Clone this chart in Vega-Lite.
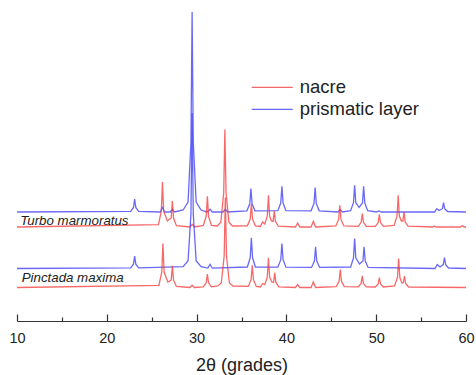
{
  "$schema": "https://vega.github.io/schema/vega-lite/v6.json",
  "width": 449,
  "height": 316,
  "autosize": {"type": "none"},
  "padding": {"left": 17, "top": 5, "right": 10, "bottom": 54},
  "background": "white",
  "config": {"view": {"stroke": null}, "font": "Liberation Sans"},
  "datasets": {
    "turboPrism": [
      {"theta":10,"intensity":109},{"theta":22.65,"intensity":109.6},{"theta":22.97,"intensity":113.5},{"theta":23.1,"intensity":122},{"theta":23.23,"intensity":113.5},{"theta":23.55,"intensity":109.6},
      {"theta":25.95,"intensity":109},{"theta":26.2,"intensity":113.5},{"theta":26.45,"intensity":109},{"theta":27.05,"intensity":109},{"theta":27.3,"intensity":111.5},{"theta":27.55,"intensity":109},
      {"theta":28.5,"intensity":111},{"theta":29.05,"intensity":119},{"theta":29.37,"intensity":179},{"theta":29.5,"intensity":309},{"theta":29.63,"intensity":179},{"theta":29.95,"intensity":119},{"theta":30.5,"intensity":111},{"theta":31.0,"intensity":109.5},
      {"theta":31.25,"intensity":109.2},{"theta":31.5,"intensity":111.7},{"theta":31.75,"intensity":109},{"theta":32.95,"intensity":109},{"theta":33.2,"intensity":111.7},{"theta":33.45,"intensity":109},
      {"theta":35.6,"intensity":110.2},{"theta":35.92,"intensity":117.2},{"theta":36.05,"intensity":132.4},{"theta":36.18,"intensity":117.2},{"theta":36.5,"intensity":110.2},
      {"theta":39.05,"intensity":110.3},{"theta":39.37,"intensity":118},{"theta":39.5,"intensity":134.7},{"theta":39.63,"intensity":118},{"theta":39.95,"intensity":110.3},
      {"theta":42.75,"intensity":110.2},{"theta":43.07,"intensity":117.5},{"theta":43.2,"intensity":133.4},{"theta":43.33,"intensity":117.5},{"theta":43.65,"intensity":110.2},
      {"theta":45.75,"intensity":109},{"theta":46.0,"intensity":111.4},{"theta":46.25,"intensity":109},
      {"theta":47.15,"intensity":110.3},{"theta":47.47,"intensity":118.3},{"theta":47.6,"intensity":135.7},{"theta":47.73,"intensity":118.3},{"theta":48.1,"intensity":113.5},{"theta":48.47,"intensity":118},{"theta":48.6,"intensity":134.7},{"theta":48.73,"intensity":118},{"theta":49.05,"intensity":110.3},
      {"theta":50.05,"intensity":109},{"theta":50.3,"intensity":110},{"theta":50.55,"intensity":109},
      {"theta":56.5,"intensity":109},{"theta":56.75,"intensity":112.4},{"theta":57.0,"intensity":110.5},{"theta":57.37,"intensity":112.3},{"theta":57.5,"intensity":118.5},{"theta":57.63,"intensity":112.3},{"theta":57.95,"intensity":109.5},{"theta":60,"intensity":109}
    ],
    "turboNacre": [
      {"theta":10,"intensity":94},
      {"theta":25.75,"intensity":96.3},{"theta":26.07,"intensity":109.8},{"theta":26.2,"intensity":139},{"theta":26.33,"intensity":109.8},{"theta":26.75,"intensity":100},{"theta":27.17,"intensity":103},{"theta":27.3,"intensity":120},{"theta":27.43,"intensity":103},{"theta":27.75,"intensity":95.3},
      {"theta":29.25,"intensity":94},{"theta":29.5,"intensity":96.7},{"theta":29.75,"intensity":94},
      {"theta":30.75,"intensity":95.5},{"theta":31.07,"intensity":104.7},{"theta":31.2,"intensity":124.7},{"theta":31.33,"intensity":104.7},{"theta":31.65,"intensity":95.5},
      {"theta":32.3,"intensity":95},{"theta":32.7,"intensity":98.9},{"theta":33.02,"intensity":128},{"theta":33.15,"intensity":191.4},{"theta":33.28,"intensity":128},{"theta":33.6,"intensity":98.9},{"theta":34.0,"intensity":95},
      {"theta":35.65,"intensity":95.2},{"theta":35.97,"intensity":102},{"theta":36.1,"intensity":117},{"theta":36.23,"intensity":102},{"theta":36.55,"intensity":95.2},
      {"theta":37.1,"intensity":94.5},{"theta":37.35,"intensity":99},{"theta":37.6,"intensity":97},{"theta":37.87,"intensity":105},{"theta":38.0,"intensity":125.7},{"theta":38.13,"intensity":105},{"theta":38.33,"intensity":100},{"theta":38.52,"intensity":99.6},{"theta":38.65,"intensity":110},{"theta":38.78,"intensity":99.6},{"theta":39.1,"intensity":94.8},
      {"theta":41.0,"intensity":94},{"theta":41.25,"intensity":98},{"theta":41.5,"intensity":94},
      {"theta":42.75,"intensity":94},{"theta":43.0,"intensity":99.7},{"theta":43.25,"intensity":94},
      {"theta":45.5,"intensity":95.1},{"theta":45.82,"intensity":101.6},{"theta":45.95,"intensity":115.7},{"theta":46.08,"intensity":101.6},{"theta":46.4,"intensity":95.1},
      {"theta":48.0,"intensity":94.7},{"theta":48.32,"intensity":98.7},{"theta":48.45,"intensity":107.4},{"theta":48.58,"intensity":98.7},{"theta":48.9,"intensity":94.7},
      {"theta":49.9,"intensity":94.6},{"theta":50.22,"intensity":98.4},{"theta":50.35,"intensity":106.7},{"theta":50.48,"intensity":98.4},{"theta":50.8,"intensity":94.6},
      {"theta":52.0,"intensity":95.6},{"theta":52.32,"intensity":105},{"theta":52.45,"intensity":125.7},{"theta":52.58,"intensity":105},{"theta":52.8,"intensity":100},{"theta":52.97,"intensity":100},{"theta":53.1,"intensity":109},{"theta":53.23,"intensity":99},{"theta":53.55,"intensity":94.8},
      {"theta":56.3,"intensity":94},{"theta":56.5,"intensity":95},{"theta":56.7,"intensity":94},
      {"theta":59.4,"intensity":94},{"theta":59.6,"intensity":95.5},{"theta":59.8,"intensity":94},{"theta":60,"intensity":94}
    ],
    "pinctadaPrism": [
      {"theta":10,"intensity":52.5},
      {"theta":22.65,"intensity":53.1},{"theta":22.97,"intensity":56.8},{"theta":23.1,"intensity":64.8},{"theta":23.23,"intensity":56.8},{"theta":23.55,"intensity":53.1},
      {"theta":28.5,"intensity":54.3},{"theta":29.05,"intensity":60.3},{"theta":29.37,"intensity":107},{"theta":29.5,"intensity":208},{"theta":29.63,"intensity":107},{"theta":29.95,"intensity":60.3},{"theta":30.5,"intensity":54.3},{"theta":31.0,"intensity":53.3},
      {"theta":31.25,"intensity":53},{"theta":31.5,"intensity":56.8},{"theta":31.75,"intensity":52.8},
      {"theta":35.65,"intensity":54},{"theta":35.97,"intensity":63.2},{"theta":36.1,"intensity":83.1},{"theta":36.23,"intensity":63.2},{"theta":36.55,"intensity":54},
      {"theta":39.05,"intensity":53.8},{"theta":39.37,"intensity":61.3},{"theta":39.5,"intensity":77.5},{"theta":39.63,"intensity":61.3},{"theta":39.95,"intensity":53.8},
      {"theta":42.8,"intensity":53.6},{"theta":43.12,"intensity":60},{"theta":43.25,"intensity":74.1},{"theta":43.38,"intensity":60},{"theta":43.7,"intensity":53.6},
      {"theta":47.15,"intensity":54},{"theta":47.47,"intensity":63},{"theta":47.6,"intensity":82.5},{"theta":47.73,"intensity":63},{"theta":48.15,"intensity":57},{"theta":48.52,"intensity":60},{"theta":48.65,"intensity":74.1},{"theta":48.78,"intensity":60},{"theta":49.1,"intensity":53.6},
      {"theta":56.55,"intensity":52.5},{"theta":56.8,"intensity":56.5},{"theta":57.1,"intensity":54},{"theta":57.47,"intensity":56.4},{"theta":57.6,"intensity":63.5},{"theta":57.73,"intensity":56.4},{"theta":58.05,"intensity":53},{"theta":60,"intensity":52.5}
    ],
    "pinctadaNacre": [
      {"theta":10,"intensity":33.5},
      {"theta":25.8,"intensity":35.7},{"theta":26.12,"intensity":48.9},{"theta":26.25,"intensity":77.5},{"theta":26.38,"intensity":48.9},{"theta":26.8,"intensity":39},{"theta":27.17,"intensity":41},{"theta":27.3,"intensity":55.1},{"theta":27.43,"intensity":41},{"theta":27.75,"intensity":34.6},
      {"theta":29.25,"intensity":33.5},{"theta":29.5,"intensity":35.8},{"theta":29.75,"intensity":33.5},
      {"theta":30.75,"intensity":34.2},{"theta":31.07,"intensity":38.2},{"theta":31.2,"intensity":46.8},{"theta":31.33,"intensity":38.2},{"theta":31.65,"intensity":34.2},
      {"theta":32.35,"intensity":35},{"theta":32.75,"intensity":38},{"theta":33.07,"intensity":65},{"theta":33.2,"intensity":123.5},{"theta":33.33,"intensity":65},{"theta":33.65,"intensity":38},{"theta":34.05,"intensity":35},
      {"theta":35.75,"intensity":34.6},{"theta":36.07,"intensity":41.3},{"theta":36.2,"intensity":55.8},{"theta":36.33,"intensity":41.3},{"theta":36.65,"intensity":34.6},
      {"theta":37.1,"intensity":34},{"theta":37.35,"intensity":37.5},{"theta":37.6,"intensity":36.5},{"theta":37.87,"intensity":43.9},{"theta":38.0,"intensity":63.1},{"theta":38.13,"intensity":43.9},{"theta":38.37,"intensity":39},{"theta":38.57,"intensity":38.6},{"theta":38.7,"intensity":48.1},{"theta":38.83,"intensity":38.6},{"theta":39.15,"intensity":34.2},
      {"theta":41.0,"intensity":33.5},{"theta":41.25,"intensity":36.5},{"theta":41.5,"intensity":33.5},
      {"theta":42.75,"intensity":33.5},{"theta":43.0,"intensity":39.1},{"theta":43.25,"intensity":33.5},
      {"theta":45.55,"intensity":34.4},{"theta":45.87,"intensity":39.8},{"theta":46.0,"intensity":51.5},{"theta":46.13,"intensity":39.8},{"theta":46.45,"intensity":34.4},
      {"theta":48.0,"intensity":34.1},{"theta":48.32,"intensity":37.6},{"theta":48.45,"intensity":45.1},{"theta":48.58,"intensity":37.6},{"theta":48.9,"intensity":34.1},
      {"theta":49.9,"intensity":34},{"theta":50.22,"intensity":37},{"theta":50.35,"intensity":43.5},{"theta":50.48,"intensity":37},{"theta":50.8,"intensity":34},
      {"theta":52.05,"intensity":35},{"theta":52.37,"intensity":43.7},{"theta":52.5,"intensity":62.5},{"theta":52.63,"intensity":43.7},{"theta":52.85,"intensity":38},{"theta":53.02,"intensity":38.5},{"theta":53.15,"intensity":44.8},{"theta":53.28,"intensity":37.5},{"theta":53.6,"intensity":34},
      {"theta":60,"intensity":33.5}
    ],
    "labels": [
      {"theta":10.35,"intensity":100.3,"label":"Turbo marmoratus"},
      {"theta":10.52,"intensity":42.7,"label":"Pinctada maxima"}
    ]
  },
  "encoding": {
    "x": {
      "field": "theta", "type": "quantitative",
      "scale": {"domain": [10, 60], "nice": false, "zero": false},
      "axis": {
        "title": "2θ (grades)",
        "values": [10, 15, 20, 25, 30, 35, 40, 45, 50, 55, 60],
        "labelExpr": "datum.value % 10 === 0 ? datum.label : ''",
        "grid": false,
        "tickSize": {"condition": {"test": "datum.value % 10 === 0", "value": -7}, "value": -4},
        "tickColor": "#333333", "tickWidth": 1.2,
        "domainColor": "#333333", "domainWidth": 1.2,
        "labelFontSize": 14.5, "labelColor": "#222222", "labelPadding": 17.8, "labelFlush": false,
        "titleFontSize": 18, "titleFontWeight": "normal", "titleColor": "#222222", "titlePadding": 11
      }
    },
    "y": {
      "field": "intensity", "type": "quantitative",
      "scale": {"domain": [0, 316], "nice": false, "zero": false},
      "axis": null
    }
  },
  "layer": [
    {"data": {"name": "turboPrism"}, "mark": {"type": "line", "strokeWidth": 1.3, "opacity": 0.75}, "encoding": {"color": {"datum": "prismatic layer"}}},
    {"data": {"name": "turboNacre"}, "mark": {"type": "line", "strokeWidth": 1.3, "opacity": 0.75}, "encoding": {"color": {"datum": "nacre"}}},
    {"data": {"name": "pinctadaPrism"}, "mark": {"type": "line", "strokeWidth": 1.3, "opacity": 0.75}, "encoding": {"color": {"datum": "prismatic layer"}}},
    {"data": {"name": "pinctadaNacre"}, "mark": {"type": "line", "strokeWidth": 1.3, "opacity": 0.75},
     "encoding": {"color": {"datum": "nacre", "type": "nominal",
       "scale": {"domain": ["nacre", "prismatic layer"], "range": ["#f53535", "#3535f5"]},
       "legend": {"title": null, "orient": "none", "legendX": 233.7, "legendY": 71.45, "symbolType": "stroke", "symbolSize": 1681, "symbolStrokeWidth": 1.3, "symbolOpacity": 0.75, "labelFontSize": 18.5, "labelColor": "#222222", "labelOffset": 6, "clipHeight": 21.7, "rowPadding": 0, "padding": 0}}}},
    {"data": {"name": "labels"}, "mark": {"type": "text", "align": "left", "baseline": "middle", "fontStyle": "italic", "fontSize": 13.3, "color": "#222222"},
     "encoding": {"text": {"field": "label"}}}
  ]
}
